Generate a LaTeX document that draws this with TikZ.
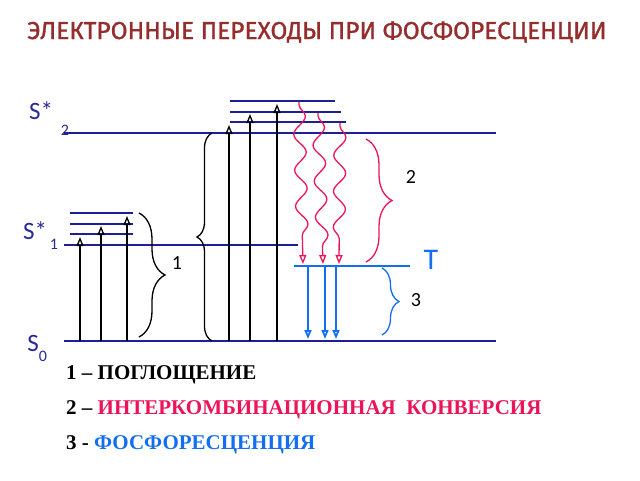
\documentclass[tikz,border=0pt]{standalone}
\usepackage{fontspec}
\setmainfont{Liberation Serif}
\setsansfont{Carlito}
\newfontfamily\titlefont[FakeBold=1.2]{Fira Sans}
\definecolor{LevelColor}{RGB}{30,30,150}
\definecolor{LabelColor}{RGB}{40,40,150}
\definecolor{TripletColor}{RGB}{20,110,240}
\definecolor{ConvColor}{RGB}{235,20,90}
\definecolor{TitleColor}{RGB}{150,45,45}
\usetikzlibrary{arrows.meta, decorations.pathmorphing, decorations.pathreplacing}
\tikzstyle{level} = [line width=2.6pt, LevelColor]
\tikzstyle{sublevel} = [line width=1.8pt, LevelColor]
\tikzstyle{absorb} = [line width=1.3pt, black, -{Triangle[open, length=9pt, width=7pt]}]
\tikzstyle{phos} = [line width=1.8pt, TripletColor, -{Triangle[open, length=9pt, width=7pt]}]
\tikzstyle{isc} = [line width=1.3pt, ConvColor, -{Triangle[open, length=9pt, width=7pt]}, decorate, decoration={snake, segment length=36pt, amplitude=6pt, pre length=3pt, post length=14pt}]
\tikzstyle{curly} = [line width=1.3pt, decorate]
\tikzstyle{lab} = [LabelColor, font=\sffamily\fontsize{25}{25}\selectfont, inner sep=0pt]
\tikzstyle{sub} = [LabelColor, font=\sffamily\fontsize{16}{16}\selectfont, inner sep=0pt]
\tikzstyle{num} = [font=\sffamily\fontsize{20}{20}\selectfont, inner sep=0pt]
\tikzstyle{legend} = [anchor=west, inner sep=0pt, font=\bfseries\fontsize{21}{21}\selectfont]

\begin{document}
\begin{tikzpicture}[x=1pt, y=-1pt]
    \useasboundingbox (0,0) rectangle (640,480);

    % Title
    \node[TitleColor, font=\titlefont\fontsize{24.5}{24.5}\selectfont] (title) at (317,32) {ЭЛЕКТРОННЫЕ ПЕРЕХОДЫ ПРИ ФОСФОРЕСЦЕНЦИИ};

    % Energy levels
    \draw[level] (64,341) -- (496,341);
    \draw[level] (64,245) -- (298,245);
    \draw[level] (64,133) -- (496,133);
    \draw[line width=2.6pt, TripletColor] (294,266) -- (410,266);

    % Vibrational sublevels
    \foreach \y in {213,224,234}
        \draw[sublevel] (70,\y) -- (133,\y);
    \draw[sublevel] (230,101) -- (335,101);
    \draw[sublevel] (230,112) -- (341,112);
    \draw[sublevel] (230,122) -- (346,122);

    % Level labels
    \node[lab] (s2) at (41,111) {S*};
    \node[sub] (s2i) at (65,130) {2};
    \node[lab] (s1) at (35,231) {S*};
    \node[sub] (s1i) at (54,244) {1};
    \node[lab] (s0) at (33,343) {S};
    \node[sub] (s0i) at (43,356) {0};
    \node[TripletColor, font=\sffamily\fontsize{30}{30}\selectfont, inner sep=0pt] (t) at (431,260) {T};

    % Absorption
    \draw[absorb] (80,341) -- (80,237);
    \draw[absorb] (101,341) -- (101,226);
    \draw[absorb] (127,341) -- (127,216);
    \draw[absorb] (229,341) -- (229,125);
    \draw[absorb] (250,341) -- (250,114);
    \draw[absorb] (277,341) -- (277,104);

    % Intersystem crossing
    \draw[isc] (299,102) -- (303,264);
    \draw[isc] (318,113) -- (323,264);
    \draw[isc] (340,123) -- (339,264);

    % Phosphorescence
    \foreach \x in {308,325,336}
        \draw[phos] (\x,267) -- (\x,339);

    % Braces
    \draw[curly, decoration={brace, amplitude=26pt}] (139,213) -- (139,337);
    \node[num] (n1) at (177,263) {1};
    \draw[curly, decoration={brace, amplitude=15pt}] (212,341) -- (212,133);
    \draw[curly, ConvColor, decoration={brace, amplitude=26pt}] (366,139) -- (366,262);
    \node[num] (n2) at (411,177) {2};
    \draw[curly, TripletColor, decoration={brace, amplitude=17pt}] (382,268) -- (382,335);
    \node[num] (n3) at (416,300) {3};

    % Legend
    \node[legend] (l1) at (66,375) {1 – ПОГЛОЩЕНИЕ};
    \node[legend] (l2) at (66,410) {2 – \textcolor{ConvColor}{ИНТЕРКОМБИНАЦИОННАЯ\ \ КОНВЕРСИЯ}};
    \node[legend] (l3) at (66,445) {3 - \textcolor{TripletColor}{ФОСФОРЕСЦЕНЦИЯ}};
\end{tikzpicture}
\end{document}
